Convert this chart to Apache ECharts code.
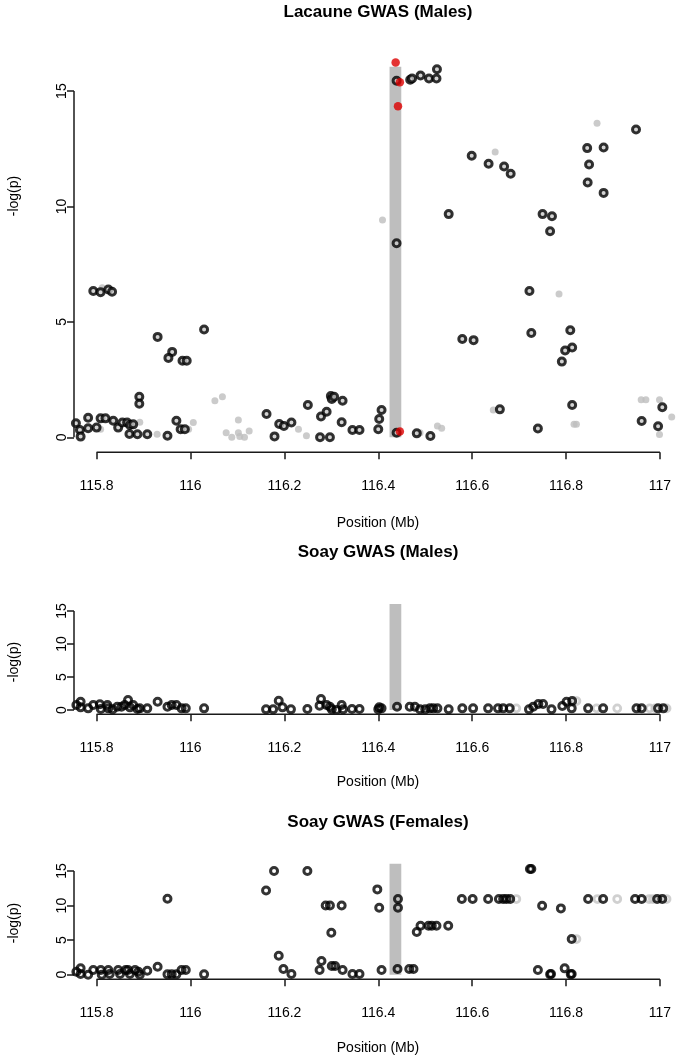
<!DOCTYPE html>
<html><head><meta charset="utf-8">
<script src="https://cdn.jsdelivr.net/npm/echarts@6/dist/echarts.min.js"></script>
<style>html,body{margin:0;padding:0;background:#fff}#c{width:677px;height:1057px}</style>
</head><body><div id="c"></div>
<script>
// ---------- data ----------
const xTicks = [115.8, 116, 116.2, 116.4, 116.6, 116.8, 117];
const xTickLabels = ['115.8', '116', '116.2', '116.4', '116.6', '116.8', '117'];
const yTicks = [0, 5, 10, 15];
const panelTitles = ['Lacaune GWAS (Males)', 'Soay GWAS (Males)', 'Soay GWAS (Females)'];
const xName = 'Position (Mb)';
const yName = '-log(p)';
const bandRange = [116.424, 116.449];
const bandTop = 16.05;

// Lacaune males: black ringed SNPs
const lacauneRings = [
  [115.756,0.61],[115.7645,0.32],[115.766,0.03],[115.782,0.85],[115.782,0.39],[115.800,0.42],[115.8085,0.82],
  [115.819,0.82],[115.8355,0.72],[115.846,0.42],[115.855,0.64],[115.865,0.64],[115.870,0.14],[115.871,0.53],
  [115.878,0.56],[115.887,0.13],[115.908,0.13],[115.951,0.07],[115.970,0.72],[115.979,0.35],[115.988,0.35],
  [115.793,6.34],[115.8085,6.29],[115.825,6.40],[115.833,6.31],
  [115.930,4.35],[116.029,4.67],[115.961,3.70],[115.953,3.44],[115.983,3.32],[115.992,3.32],[115.891,1.76],[115.891,1.45],
  [116.162,1.01],[116.179,0.04],[116.189,0.58],[116.199,0.49],[116.215,0.64],[116.250,1.40],[116.278,0.90],[116.276,0.00],
  [116.290,1.11],[116.297,0.00],[116.299,1.79],[116.301,1.66],[116.306,1.76],[116.324,1.58],[116.322,0.65],[116.345,0.32],
  [116.360,0.32],[116.400,0.35],[116.402,0.79],[116.407,1.18],
  [116.439,15.45],[116.439,8.41],[116.439,0.20],
  [116.468,15.49],[116.472,15.55],[116.490,15.68],[116.508,15.55],[116.524,15.55],[116.525,15.95],
  [116.482,0.17],[116.511,0.06],
  [116.550,9.67],[116.599,12.20],[116.635,11.85],[116.668,11.73],[116.682,11.42],[116.579,4.26],[116.603,4.21],[116.659,1.21],
  [116.722,6.34],[116.726,4.52],[116.740,0.38],[116.750,9.67],[116.770,9.58],[116.766,8.93],
  [116.809,4.64],[116.813,3.89],[116.798,3.76],[116.791,3.28],[116.813,1.40],
  [116.845,12.53],[116.880,12.56],[116.849,11.82],[116.846,11.04],[116.880,10.59],[116.949,13.34],
  [117.005,1.30],[116.961,0.71],[116.996,0.48]
];
// Lacaune males: grey SNPs
const lacauneGray = [
  [115.812,6.48],[115.8085,0.35],[115.892,0.65],[115.929,0.13],[115.996,0.35],[116.006,0.64],[116.052,1.58],[116.068,1.76],
  [116.076,0.20],[116.088,0.00],[116.102,0.75],[116.102,0.20],[116.105,0.03],[116.115,0.00],[116.125,0.27],[116.230,0.35],
  [116.247,0.07],[116.409,9.42],[116.489,0.20],[116.526,0.49],[116.535,0.39],[116.649,12.36],[116.645,1.18],[116.785,6.21],
  [116.817,0.56],[116.822,0.56],[116.866,13.61],[116.960,1.63],[116.970,1.63],[116.999,1.63],[117.025,0.88],[116.999,0.12]
];
// Lacaune males: red SNPs
const lacauneRed = [[116.437,16.24],[116.446,15.38],[116.442,14.34],[116.446,0.25]];

// Soay males
const soayMaleRings = [
  [115.757,0.76],[115.766,1.26],[115.766,0.40],[115.782,0.25],[115.793,0.76],[115.807,0.86],[115.809,0.15],[115.823,0.76],
  [115.825,0.25],[115.834,0.10],[115.844,0.50],[115.853,0.50],[115.860,0.76],[115.867,1.52],[115.871,0.40],[115.878,0.76],
  [115.887,0.15],[115.892,0.25],[115.908,0.25],[115.930,1.26],[115.951,0.50],[115.960,0.76],[115.970,0.76],[115.981,0.25],
  [115.990,0.25],[116.029,0.25],[116.161,0.10],[116.176,0.10],[116.188,1.41],[116.196,0.40],[116.214,0.10],[116.249,0.15],
  [116.278,1.67],[116.275,0.66],[116.290,0.76],[116.297,0.50],[116.301,0.10],[116.311,0.00],[116.322,0.76],[116.325,0.10],
  [116.344,0.15],[116.360,0.15],
  [116.400,0.10],[116.402,0.40],[116.407,0.25],[116.440,0.50],[116.467,0.50],[116.478,0.50],[116.489,0.10],[116.500,0.10],
  [116.510,0.25],[116.517,0.25],[116.526,0.25],[116.550,0.10],[116.579,0.25],[116.602,0.25],[116.634,0.25],[116.655,0.25],
  [116.666,0.25],[116.680,0.25],[116.721,0.10],[116.730,0.50],[116.741,0.90],[116.751,0.90],[116.769,0.10],[116.792,0.60],
  [116.801,1.26],[116.813,1.36],[116.812,0.25],[116.847,0.25],[116.879,0.25],[116.950,0.25],[116.961,0.25],[116.996,0.25],
  [117.007,0.25]
];
const soayMaleGrayRings = [[116.694,0.25],[116.822,1.36],[116.865,0.25],[116.909,0.25],[116.978,0.25],[116.990,0.25],[117.014,0.25]];

// Soay females
const soayFemaleRings = [
  [115.757,0.43],[115.766,0.92],[115.766,0.10],[115.782,0.00],[115.793,0.68],[115.809,0.68],[115.811,0.00],[115.825,0.68],
  [115.828,0.10],[115.846,0.68],[115.850,0.10],[115.862,0.68],[115.867,0.68],[115.871,0.10],[115.882,0.68],[115.889,0.43],
  [115.892,0.00],[115.908,0.58],[115.930,1.16],[115.951,0.05],[115.960,0.05],[115.970,0.05],[115.981,0.68],[115.990,0.68],
  [116.029,0.05],[115.951,11.00],
  [116.161,12.20],[116.178,15.00],[116.249,15.00],[116.288,10.03],[116.297,10.03],[116.322,10.03],[116.300,6.08],[116.188,2.75],
  [116.198,0.82],[116.215,0.10],[116.279,1.98],[116.275,0.68],[116.301,1.25],[116.308,1.25],[116.324,0.68],[116.345,0.10],
  [116.360,0.10],
  [116.398,12.35],[116.402,9.70],[116.442,10.95],[116.442,9.70],[116.407,0.68],[116.441,0.82],[116.466,0.82],[116.475,0.82],
  [116.482,6.17],[116.490,7.09],[116.507,7.09],[116.514,7.09],[116.524,7.09],[116.549,7.09],[116.578,10.95],[116.601,10.95],
  [116.634,10.95],[116.657,10.95],[116.666,10.95],[116.673,10.95],[116.681,10.95],[116.723,15.29],[116.726,15.29],[116.749,9.99],
  [116.789,9.60],[116.812,5.16],[116.740,0.68],[116.766,0.05],[116.768,0.10],[116.797,0.92],[116.810,0.05],[116.812,0.10],
  [116.847,10.95],[116.879,10.95],[116.947,10.95],[116.961,10.95],[116.994,10.95],[117.005,10.95]
];
const soayFemaleGrayRings = [[116.694,10.95],[116.822,5.16],[116.867,10.95],[116.909,10.95],[116.977,10.95],[116.985,10.95],[117.014,10.95]];

// ---------- layout ----------
const X_MIN = 115.7519, X_MAX = 117.0299, Y_MIN = -0.65, Y_MAX = 16.95;
const FONT = '"Liberation Sans", Arial, sans-serif';
const grids = [
  {left: 74, width: 600, top: 46.1, height: 406.2},
  {left: 74, width: 600, top: 598.1, height: 116.2},
  {left: 74, width: 600, top: 857.6, height: 121.6}
];
const titleY = [12, 552, 822];
const xNameY = [523, 782, 1048];
const yNameY = [196, 662, 923];
const AX = '#1a1a1a';

const panels = [
  {rings: lacauneRings, ringFill: '#c8c8c8', gray: lacauneGray, grayRings: [], red: lacauneRed},
  {rings: soayMaleRings, ringFill: 'rgba(0,0,0,0)', gray: [], grayRings: soayMaleGrayRings, red: []},
  {rings: soayFemaleRings, ringFill: 'rgba(0,0,0,0)', gray: [], grayRings: soayFemaleGrayRings, red: []}
];

function nearestLabel(v) {
  let best = 0;
  for (let i = 1; i < xTicks.length; i++) if (Math.abs(xTicks[i] - v) < Math.abs(xTicks[best] - v)) best = i;
  return xTickLabels[best];
}

const xAxes = [], yAxes = [], series = [], graphics = [];
panels.forEach((p, i) => {
  xAxes.push({
    type: 'value', gridIndex: i, min: X_MIN, max: X_MAX,
    axisLine: {show: false, onZero: false}, splitLine: {show: false},
    axisTick: {show: true, customValues: xTicks, length: 7, lineStyle: {color: AX, width: 1.5}},
    axisLabel: {show: true, customValues: xTicks, formatter: v => nearestLabel(v), margin: 27,
      fontFamily: FONT, fontSize: 14, color: '#000'}
  });
  yAxes.push({
    type: 'value', gridIndex: i, min: Y_MIN, max: Y_MAX,
    axisLine: {show: false, onZero: false}, splitLine: {show: false},
    axisTick: {show: true, customValues: yTicks, length: 7, lineStyle: {color: AX, width: 1.5}},
    axisLabel: {show: true, customValues: yTicks, rotate: 90, margin: 5,
      fontFamily: FONT, fontSize: 14, color: '#000'}
  });
  // axis lines (R style: span first to last tick)
  series.push({type: 'line', xAxisIndex: i, yAxisIndex: i, silent: true, symbol: 'none', clip: false, z: 5,
    lineStyle: {color: AX, width: 1.5}, data: [[xTicks[0], Y_MIN], [xTicks[xTicks.length - 1], Y_MIN]]});
  series.push({type: 'line', xAxisIndex: i, yAxisIndex: i, silent: true, symbol: 'none', clip: false, z: 5,
    lineStyle: {color: AX, width: 1.5}, data: [[X_MIN, yTicks[0]], [X_MIN, yTicks[yTicks.length - 1]]]});
  // highlighted region
  series.push({type: 'scatter', xAxisIndex: i, yAxisIndex: i, silent: true, data: [], z: 1,
    markArea: {silent: true, itemStyle: {color: '#bebebe', opacity: 1},
      data: [[{coord: [bandRange[0], 0]}, {coord: [bandRange[1], bandTop]}]]}});
  series.push({type: 'scatter', xAxisIndex: i, yAxisIndex: i, silent: true, z: 2, symbolSize: 7,
    itemStyle: {color: '#bebebe'}, data: p.gray});
  series.push({type: 'scatter', xAxisIndex: i, yAxisIndex: i, silent: true, z: 3, symbolSize: 7,
    itemStyle: {color: 'rgba(0,0,0,0)', borderColor: '#c4c4c4', borderWidth: 2.8}, data: p.grayRings});
  series.push({type: 'scatter', xAxisIndex: i, yAxisIndex: i, silent: true, z: 4, symbolSize: 7,
    itemStyle: {color: p.ringFill, borderColor: '#000', borderWidth: 3}, data: p.rings});
  series.push({type: 'scatter', xAxisIndex: i, yAxisIndex: i, silent: true, z: 6, symbolSize: 8.5,
    itemStyle: {color: '#dd0000'}, data: p.red});

  graphics.push({type: 'text', x: 378, y: titleY[i], silent: true,
    style: {text: panelTitles[i], fill: '#000', font: 'bold 17px ' + FONT, align: 'center', verticalAlign: 'middle'}});
  graphics.push({type: 'text', x: 378, y: xNameY[i], silent: true,
    style: {text: xName, fill: '#000', font: '14px ' + FONT, align: 'center', verticalAlign: 'middle'}});
  graphics.push({type: 'text', x: 14, y: yNameY[i], rotation: Math.PI / 2, silent: true,
    style: {text: yName, fill: '#000', font: '14px ' + FONT, align: 'center', verticalAlign: 'middle'}});
});

const chart = echarts.init(document.getElementById('c'), null, {renderer: 'canvas'});
chart.setOption({
  animation: false,
  backgroundColor: '#fff',
  grid: grids.map(g => Object.assign({containLabel: false}, g)),
  xAxis: xAxes,
  yAxis: yAxes,
  series: series,
  graphic: graphics
});
</script></body></html>
